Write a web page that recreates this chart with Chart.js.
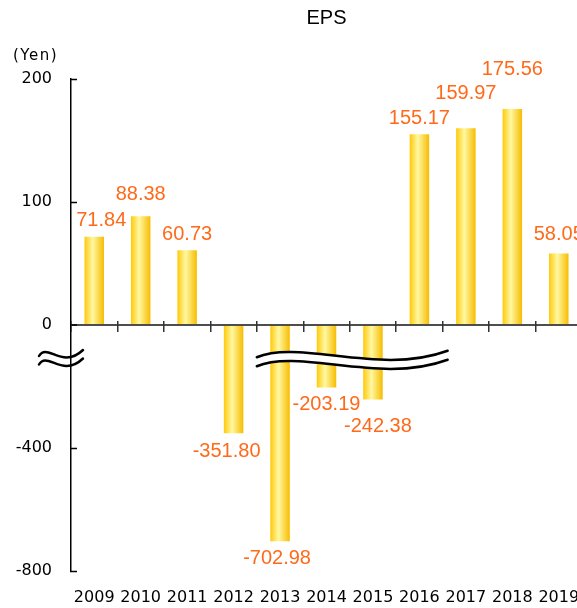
<!DOCTYPE html>
<html>
<head>
<meta charset="utf-8">
<title>EPS</title>
<script src="https://cdn.jsdelivr.net/npm/chart.js@4.4.1/dist/chart.umd.min.js"></script>
<style>
  html, body { margin: 0; padding: 0; background: #fff; overflow: hidden; }
  #wrap { width: 577px; height: 608px; overflow: hidden; }
  canvas { display: block; }
</style>
</head>
<body>
<div id="wrap"><canvas id="epsChart" width="582" height="608"></canvas></div>
<script>
const years = ["2009", "2010", "2011", "2012", "2013", "2014", "2015", "2016", "2017", "2018", "2019"];
const eps = [71.84, 88.38, 60.73, -351.80, -702.98, -203.19, -242.38, 155.17, 159.97, 175.56, 58.05];
const yTicks = [-800, -400, 0, 100, 200];

const SANS = "'Liberation Sans', Arial, sans-serif";
const TICK_FONT = "'DejaVu Sans', sans-serif";
const LABEL_COLOR = "#FF6A1A";
const BAR_PCT = 0.42;

// y axis with a break: 0..200 on the top half, -800..0 squeezed into the bottom half
class BrokenScale extends Chart.LinearScale {
    getPixelForValue(value) {
        if (value === null || isNaN(value)) return NaN;
        const dec = value >= 0
            ? 0.5 + 0.5 * value / this.max
            : 0.5 - 0.5 * value / this.min;
        return this.getPixelForDecimal(dec);
    }
    getValueForPixel(pixel) {
        const dec = this.getDecimalForPixel(pixel);
        return dec >= 0.5 ? (dec - 0.5) * 2 * this.max : (0.5 - dec) * 2 * this.min;
    }
}
BrokenScale.id = "broken";
BrokenScale.defaults = Chart.LinearScale.defaults;
Chart.register(BrokenScale);

function goldFill(c) {
    const chart = c.chart;
    const xs = chart.scales.x;
    if (c.type !== "data" || !chart.chartArea || !xs) return "#FFD21A";
    const cx = xs.getPixelForValue(c.dataIndex);
    const half = xs.width / years.length * BAR_PCT / 2;
    const g = chart.ctx.createLinearGradient(cx - half, 0, cx + half, 0);
    g.addColorStop(0, "#FFC90A");
    g.addColorStop(0.42, "#FFF8A2");
    g.addColorStop(1, "#F7BC00");
    return g;
}

const valueLabels = {
    id: "valueLabels",
    afterDatasetsDraw(chart, args, opts) {
        const ctx = chart.ctx;
        const meta = chart.getDatasetMeta(0);
        ctx.save();
        ctx.font = "20px " + SANS;
        ctx.fillStyle = LABEL_COLOR;
        ctx.textAlign = "center";
        ctx.textBaseline = "middle";
        meta.data.forEach((bar, i) => {
            const v = eps[i];
            const n = opts.nudge[i] || [0, 0];
            const y = v >= 0 ? bar.y - 16 : bar.y + 17;
            ctx.fillText(v.toFixed(2), bar.x + n[0], y + n[1]);
        });
        ctx.restore();
    }
};

const breakMarks = {
    id: "breakMarks",
    afterDatasetsDraw(chart) {
        const { ctx, scales: { x, y } } = chart;
        const base = y.getPixelForValue(-100);
        const ax = chart.chartArea.left;

        function wave(pts, dy) {
            ctx.moveTo(pts[0][0], pts[0][1] + dy);
            ctx.bezierCurveTo(pts[1][0], pts[1][1] + dy, pts[2][0], pts[2][1] + dy, pts[3][0], pts[3][1] + dy);
        }

        ctx.save();
        ctx.strokeStyle = "#000";
        ctx.lineWidth = 2.5;
        ctx.lineCap = "round";

        // break sign on the y axis
        const axisPts = [[ax - 32, base + 0.25], [ax - 24, base - 13.75], [ax - 9, base + 14.25], [ax + 12, base - 5.75]];
        ctx.beginPath();
        wave(axisPts, 0);
        wave(axisPts, 8.5);
        ctx.stroke();

        // long break across the 2013-2016 columns
        const x0 = (x.getPixelForValue(3) + x.getPixelForValue(4)) / 2;
        const x1 = (x.getPixelForValue(7) + x.getPixelForValue(8)) / 2 + 5;
        const pts = [[x0, base + 1.5], [x0 + 43, base - 16.75], [x0 + 123, base + 20.25], [x1, base - 5]];
        const gap = 9;

        ctx.beginPath();
        ctx.moveTo(pts[0][0], pts[0][1]);
        ctx.bezierCurveTo(pts[1][0], pts[1][1], pts[2][0], pts[2][1], pts[3][0], pts[3][1]);
        ctx.lineTo(pts[3][0], pts[3][1] + gap);
        ctx.bezierCurveTo(pts[2][0], pts[2][1] + gap, pts[1][0], pts[1][1] + gap, pts[0][0], pts[0][1] + gap);
        ctx.closePath();
        ctx.fillStyle = "#fff";
        ctx.fill();

        ctx.beginPath();
        wave(pts, 0);
        wave(pts, gap);
        ctx.stroke();
        ctx.restore();
    }
};

const unitLabel = {
    id: "unitLabel",
    afterDraw(chart) {
        const ctx = chart.ctx;
        ctx.save();
        ctx.font = "15px " + TICK_FONT;
        ctx.fillStyle = "#000";
        ctx.textBaseline = "middle";
        ctx.letterSpacing = "1.5px";
        ctx.fillText("(Yen)", 13, 56);
        ctx.restore();
    }
};

new Chart(document.getElementById("epsChart"), {
    type: "bar",
    data: {
        labels: years,
        datasets: [{
            label: "EPS",
            data: eps,
            backgroundColor: goldFill,
            borderWidth: 0,
            barPercentage: BAR_PCT,
            categoryPercentage: 1
        }]
    },
    options: {
        responsive: false,
        animation: false,
        events: [],
        layout: { padding: 0 },
        plugins: {
            legend: { display: false },
            tooltip: { enabled: false },
            title: {
                display: true,
                text: "EPS",
                fullSize: false,
                color: "#000",
                font: { family: SANS, size: 20, weight: "normal" },
                padding: { top: 6, bottom: 49 }
            },
            valueLabels: {
                nudge: { 0: [7, 0], 1: [0, -6], 3: [-7, 1], 4: [-3, 0], 6: [5, 10], 8: [0, -19], 9: [0, -24], 10: [0, -3] }
            }
        },
        scales: {
            y: {
                type: "broken",
                min: -800,
                max: 200,
                afterBuildTicks: s => { s.ticks = yTicks.map(v => ({ value: v })); },
                afterFit: s => { s.width = 71; },
                border: { display: true, color: "#000", width: 1.5 },
                grid: {
                    drawOnChartArea: true,
                    color: c => (c.tick && c.tick.value === 0 ? "#4d4d4d" : "rgba(0,0,0,0)"),
                    lineWidth: c => (c.tick && c.tick.value === 0 ? 2 : 1),
                    tickColor: "#000",
                    tickWidth: 1.5,
                    tickLength: -6
                },
                ticks: {
                    color: "#000",
                    padding: 25,
                    font: { family: TICK_FONT, size: 16 }
                }
            },
            x: {
                position: "bottom",
                afterFit: s => { s.height = 37; s.paddingLeft = 0; s.paddingRight = 0; },
                border: { display: false },
                grid: { display: false },
                ticks: {
                    color: "#000",
                    padding: 9,
                    maxRotation: 0,
                    autoSkip: false,
                    font: { family: TICK_FONT, size: 16 }
                }
            },
            xt: {
                type: "category",
                axis: "x",
                position: { y: 3 },
                border: { display: false },
                grid: {
                    offset: true,
                    drawOnChartArea: false,
                    color: "#333",
                    lineWidth: 1.5,
                    tickLength: 11
                },
                ticks: { display: false }
            }
        }
    },
    plugins: [valueLabels, breakMarks, unitLabel]
});
</script>
</body>
</html>
